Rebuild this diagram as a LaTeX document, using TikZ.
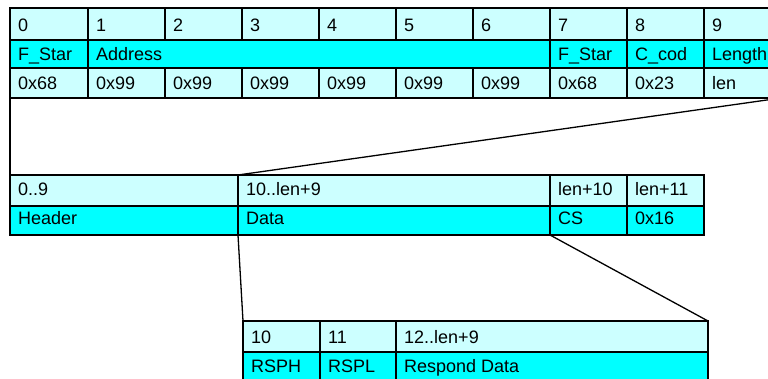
\documentclass[tikz,border=0pt]{standalone}
\usepackage{fontspec}
\setmainfont{Liberation Sans}
\usetikzlibrary{calc}
\definecolor{fieldlight}{HTML}{CCFFFF}
\definecolor{fieldfull}{HTML}{00FFFF}
\tikzset{
  cellbox/.style={draw=black, line width=1.7pt, rectangle, inner sep=0pt, outer sep=0pt},
  lite/.style={fill=fieldlight},
  full/.style={fill=fieldfull},
  celltext/.style={anchor=base west, inner sep=0pt, font=\fontsize{18}{20}\selectfont},
  zoomline/.style={draw=black, line width=1.3pt},
}
% #1 name, #2 x1, #3 y1, #4 x2, #5 y2, #6 fill style, #7 baseline gap, #8 text
\newcommand\fcell[8]{%
  \node[cellbox,#6,minimum width={(#4-#2)*1pt},minimum height={(#5-#3)*1pt}]
    (#1) at ({(#2+#4)/2},{(#3+#5)/2}) {};
  \node[celltext] (#1t) at ($(#1.south west)+(8,-#7)$) {#8};
}
\begin{document}
\begin{tikzpicture}[x=1pt,y=-1pt]
\path[use as bounding box] (0,0) rectangle (768,379);
\clip (0,0) rectangle (768,379);

% frame header: byte indices
\fcell{ia}{10}{8}{88}{40}{lite}{8.3}{0}
\fcell{ib}{88}{8}{165}{40}{lite}{8.3}{1}
\fcell{ic}{165}{8}{242}{40}{lite}{8.3}{2}
\fcell{id}{242}{8}{319}{40}{lite}{8.3}{3}
\fcell{ie}{319}{8}{396}{40}{lite}{8.3}{4}
\fcell{if}{396}{8}{473}{40}{lite}{8.3}{5}
\fcell{ig}{473}{8}{550}{40}{lite}{8.3}{6}
\fcell{ih}{550}{8}{627}{40}{lite}{8.3}{7}
\fcell{ii}{627}{8}{704}{40}{lite}{8.3}{8}
\fcell{ij}{704}{8}{781}{40}{lite}{8.3}{9}

% frame header: field names
\fcell{na}{10}{40}{88}{68}{full}{7.3}{F\_Star}
\fcell{nb}{88}{40}{550}{68}{full}{7.3}{Address}
\fcell{nc}{550}{40}{627}{68}{full}{7.3}{F\_Star}
\fcell{nd}{627}{40}{704}{68}{full}{7.3}{C\_cod}
\fcell{ne}{704}{40}{781}{68}{full}{7.3}{Length}

% frame header: values
\fcell{va}{10}{68}{88}{98}{lite}{8.3}{0x68}
\fcell{vb}{88}{68}{165}{98}{lite}{8.3}{0x99}
\fcell{vc}{165}{68}{242}{98}{lite}{8.3}{0x99}
\fcell{vd}{242}{68}{319}{98}{lite}{8.3}{0x99}
\fcell{ve}{319}{68}{396}{98}{lite}{8.3}{0x99}
\fcell{vf}{396}{68}{473}{98}{lite}{8.3}{0x99}
\fcell{vg}{473}{68}{550}{98}{lite}{8.3}{0x99}
\fcell{vh}{550}{68}{627}{98}{lite}{8.3}{0x68}
\fcell{vi}{627}{68}{704}{98}{lite}{8.3}{0x23}
\fcell{vj}{704}{68}{781}{98}{lite}{8.3}{len}

% whole frame
\fcell{fa}{10}{175}{238}{206}{lite}{10}{0..9}
\fcell{fb}{238}{175}{550}{206}{lite}{10}{10..len+9}
\fcell{fc}{550}{175}{627}{206}{lite}{10}{len+10}
\fcell{fd}{627}{175}{704}{206}{lite}{10}{len+11}
\fcell{ga}{10}{206}{238}{235}{full}{10.5}{Header}
\fcell{gb}{238}{206}{550}{235}{full}{10.5}{Data}
\fcell{gc}{550}{206}{627}{235}{full}{10.5}{CS}
\fcell{gd}{627}{206}{704}{235}{full}{10.5}{0x16}

% data field
\fcell{da}{243}{321}{320}{352}{lite}{8.7}{10}
\fcell{db}{320}{321}{396}{352}{lite}{8.7}{11}
\fcell{dc}{396}{321}{708}{352}{lite}{8.7}{12..len+9}
\fcell{ea}{243}{352}{320}{382}{full}{9.3}{RSPH}
\fcell{eb}{320}{352}{396}{382}{full}{9.3}{RSPL}
\fcell{ec}{396}{352}{708}{382}{full}{9.3}{Respond Data}

% expansion lines
\draw[zoomline] (va.south west) -- (fa.north west);
\draw[zoomline] (vj.south east) -- (fb.north west);
\draw[zoomline] (gb.south west) -- (da.north west);
\draw[zoomline] (gc.south west) -- (dc.north east);
\end{tikzpicture}
\end{document}
